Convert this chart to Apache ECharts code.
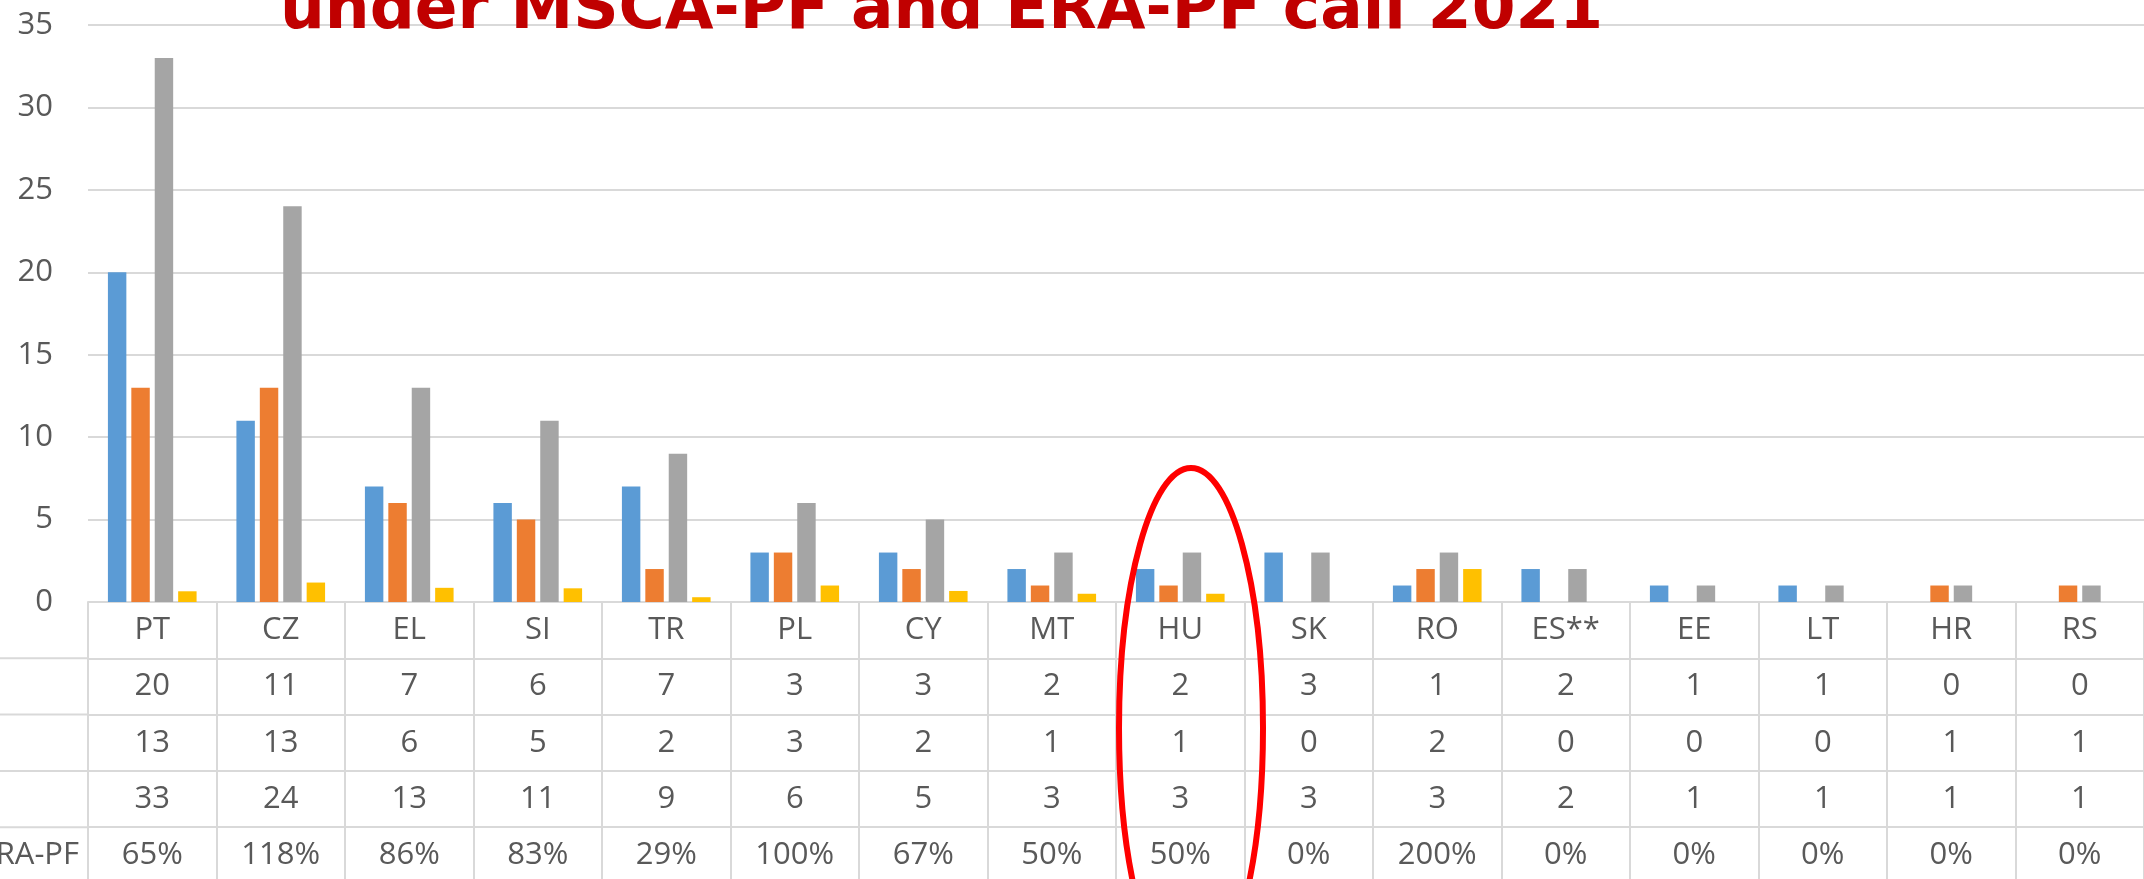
<!DOCTYPE html>
<html>
<head>
<meta charset="utf-8">
<script src="https://cdn.jsdelivr.net/npm/echarts@6/dist/echarts.min.js"></script>
<style>
html,body{margin:0;padding:0;background:#fff;}
#chart{width:2144px;height:879px;}
</style>
</head>
<body>
<div id="chart"></div>
<script>
// ---- data ----
const categories = ['PT','CZ','EL','SI','TR','PL','CY','MT','HU','SK','RO','ES**','EE','LT','HR','RS'];
const mscaPF  = [20,11,7,6,7,3,3,2,2,3,1,2,1,1,0,0];
const eraPF   = [13,13,6,5,2,3,2,1,1,0,2,0,0,0,1,1];
const totalPF = [33,24,13,11,9,6,5,3,3,3,3,2,1,1,1,1];
const ratioPct = [65,118,86,83,29,100,67,50,50,0,200,0,0,0,0,0];
const yTicks = [0,5,10,15,20,25,30,35];
const titleText = 'under MSCA-PF and ERA-PF call 2021';
const lastRowLabel = 'ERA-PF';

// ---- chart ----
const FONT = 'Open Sans';
const TXT = '#595959';
const LINE = '#D9D9D9';
const ROW_H = 56.3;
const FS = 31;
const rows = [
  (v,i) => categories[i],
  (v,i) => String(mscaPF[i]),
  (v,i) => String(eraPF[i]),
  (v,i) => String(totalPF[i]),
  (v,i) => ratioPct[i] + '%'
];

const xAxes = rows.map((fmt, k) => ({
  type: 'category',
  gridIndex: 0,
  position: 'bottom',
  offset: k * ROW_H,
  data: categories,
  boundaryGap: true,
  axisLine: { show: true, lineStyle: { color: LINE, width: 2 } },
  axisTick: { show: true, interval: 0, length: ROW_H, lineStyle: { color: LINE, width: 2 } },
  axisLabel: {
    show: true, interval: 0, margin: ROW_H / 2, verticalAlign: 'middle',
    color: TXT, fontFamily: FONT, fontSize: FS,
    formatter: fmt
  },
  splitLine: { show: false }
}));

const chart = echarts.init(document.getElementById('chart'), null, { renderer: 'canvas' });
const leftLines = [1,2,3,4].map(k => ({
  type: 'line', z: 5,
  shape: { x1: 0, y1: 602 + k * ROW_H, x2: 88, y2: 602 + k * ROW_H },
  style: { stroke: LINE, lineWidth: 2 }
}));

chart.setOption({
  backgroundColor: '#ffffff',
  animation: false,
  title: {
    text: titleText,
    left: 280, top: -20, padding: 0,
    textStyle: { fontFamily: 'DejaVu Sans', fontWeight: 'bold', fontSize: 63, color: '#C00000' }
  },
  grid: { left: 88, right: 0, top: 25, bottom: 879 - 602, containLabel: false },
  xAxis: xAxes,
  yAxis: {
    type: 'value', min: yTicks[0], max: yTicks[yTicks.length - 1], interval: 5,
    axisLine: { show: false }, axisTick: { show: false },
    axisLabel: { color: TXT, fontFamily: FONT, fontSize: FS, margin: 35 },
    splitLine: { lineStyle: { color: LINE, width: 2 } }
  },
  series: [
    { name: 'MSCA-PF', type: 'bar', data: mscaPF, itemStyle: { color: '#5B9BD5' }, barGap: '27%', barCategoryGap: '31%' },
    { name: 'ERA-PF', type: 'bar', data: eraPF, itemStyle: { color: '#ED7D31' }, barGap: '27%', barCategoryGap: '31%' },
    { name: 'Total', type: 'bar', data: totalPF, itemStyle: { color: '#A5A5A5' }, barGap: '27%', barCategoryGap: '31%' },
    { name: '% ERA-PF', type: 'bar', data: ratioPct.map(p => p / 100), itemStyle: { color: '#FFC000' }, barGap: '27%', barCategoryGap: '31%' }
  ],
  graphic: leftLines.concat([
    {
      type: 'text', z: 5,
      x: 79, y: 602 + 4.5 * ROW_H,
      style: { text: lastRowLabel, fill: TXT, font: FS + 'px "Open Sans"', textAlign: 'right', textVerticalAlign: 'middle' }
    },
    {
      type: 'ellipse', z: 100,
      shape: { cx: 1191, cy: 728, rx: 72, ry: 260 },
      style: { stroke: '#FF0000', lineWidth: 6, fill: null }
    }
  ])
});
</script>
</body>
</html>
